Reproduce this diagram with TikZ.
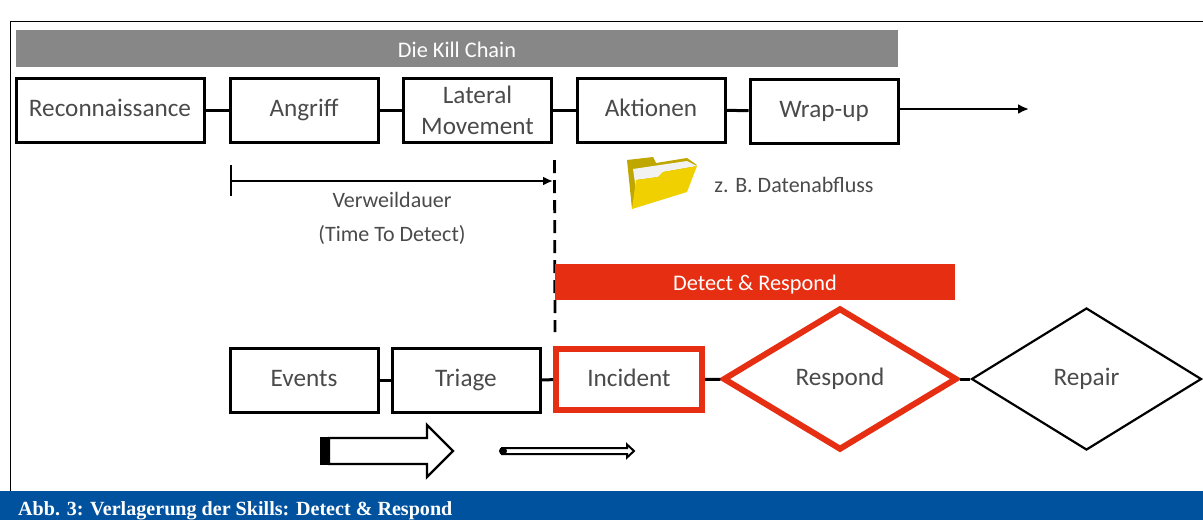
\documentclass[tikz,border=0pt]{standalone}
\usepackage{fontspec}
\setmainfont{Carlito}
\newfontfamily\captionfont{Liberation Serif}
\usetikzlibrary{arrows.meta,shapes.geometric}
\definecolor{killgray}{HTML}{878787}
\definecolor{textgray}{HTML}{4A4A4A}
\definecolor{alarmred}{HTML}{E62E12}
\definecolor{capblue}{HTML}{00519E}
\definecolor{folderyellow}{HTML}{F0D000}

\begin{document}
\begin{tikzpicture}[x=1pt,y=-1pt]
	\tikzstyle{comp} = [
		rectangle, draw=black, line width=3pt, text=textgray, font=\fontsize{25.2}{27}\selectfont,
		align=center, inner sep=0pt, minimum height=64pt, text height=17pt, text depth=5pt
	]
	\tikzstyle{component} = [
		comp, minimum width=148pt
	]
	\tikzstyle{bar} = [
		rectangle, inner sep=0pt, text=white, font=\fontsize{22.3}{24}\selectfont, text height=19pt, text depth=2pt
	]
	\tikzstyle{caption} = [
		text=textgray, font=\fontsize{22}{24}\selectfont
	]
	\tikzstyle{decision} = [
		diamond, draw=black, text=textgray, inner sep=0pt, font=\fontsize{25.2}{27}\selectfont, text height=18pt, text depth=5pt
	]
	\tikzstyle{conn} = [
		draw=black, line width=3pt
	]
	\tikzstyle{arr} = [
		line width=2.2pt, -{Latex[length=11pt,width=10pt]}
	]

	\useasboundingbox (0,0) rectangle (1203,520);

	% Frame
	\draw[black, line width=0.8pt] (1203,21) -- (10.5,21) -- (10.5,491);

	% Kill Chain
	\node (KillChain) [bar, fill=killgray, minimum width=882pt, minimum height=37pt] at (457,48.5) {Die Kill Chain};
	\node (Recon) [comp, minimum width=188pt] at (110,110) {Reconnaissance};
	\node (Angriff) [component] at (304,110) {Angriff};
	\node (Lateral) [component, text height=, text depth=] at (477.5,110) {Lateral\\[4pt]Movement};
	\node (Aktionen) [component] at (651,110) {Aktionen};
	\node (Wrapup) [component] at (824,111) {Wrap-up};
	\coordinate (chain_end) at (1029,109);

	\draw[conn] (Recon) -- (Angriff);
	\draw[conn] (Angriff) -- (Lateral);
	\draw[conn] (Lateral) -- (Aktionen);
	\draw[conn] (Aktionen) -- (Wrapup);
	\draw[arr] (Wrapup.east |- chain_end) -- (chain_end);

	% Folder
	\fill[folderyellow!80!black] (627,160) -- (653,157) -- (656,163) -- (687,158) -- (697,165) -- (632,209) -- cycle;
	\fill[white!90!gray] (633,169) -- (687,161) -- (697,166) -- (663,172) -- (658,177) -- (636,180) -- (637,197) -- cycle;
	\fill[folderyellow] (636,180) -- (658,177) -- (663,172) -- (697,166) -- (687,192) -- (632,209) -- cycle;
	\node (DataLabel) [caption] at (794,185) {z. B. Datenabfluss};

	% Verweildauer
	\coordinate (dwell_start) at (231,181);
	\coordinate (dwell_top) at (231,165);
	\coordinate (dwell_bottom) at (231,196);
	\coordinate (dwell_end) at (553,181);
	\coordinate (cut_top) at (554.5,160);
	\coordinate (cut_bottom) at (555,332);
	\draw[black, line width=2.2pt] (dwell_top) -- (dwell_bottom);
	\draw[black, line width=2pt, -{Latex[length=10pt,width=9pt]}] (dwell_start) -- (dwell_end);
	\draw[black, line width=2.8pt, dash pattern=on 13pt off 7pt] (cut_top) -- (cut_bottom);
	\node (Dwell) [caption] at (392,200) {Verweildauer};
	\node (Ttd) [caption] at (392,235) {(Time To Detect)};

	% Detect & Respond
	\node (DetectBar) [bar, fill=alarmred, minimum width=400pt, minimum height=36pt] at (755,282) {Detect \& Respond};
	\node (Events) [component] at (304,380) {Events};
	\node (Triage) [component] at (466,380) {Triage};
	\node (Incident) [comp, draw=alarmred, line width=6pt, minimum width=146pt, minimum height=61pt, text height=18pt] at (629,379.5) {Incident};
	\node (Respond) [decision, draw=alarmred, line width=6pt, minimum width=234pt, minimum height=142pt, aspect=1.65] at (840,379) {Respond};
	\node (Repair) [decision, line width=2.2pt, minimum width=230pt, minimum height=142pt, aspect=1.62] at (1086.5,379) {Repair};

	\draw[conn] (Events) -- (Triage);
	\draw[conn] (Triage) -- (Incident);
	\draw[conn] (Incident) -- (Respond);
	\draw[conn] (Respond) -- (Repair);

	% Arrows below
	\draw[black, line width=2.4pt, fill=white, line join=miter] (329,438) -- (427,438) -- (427,425) -- (453,451) -- (427,477) -- (427,464) -- (329,464) -- cycle;
	\node (BigTail) [rectangle, fill=black, inner sep=0pt, minimum width=10pt, minimum height=28pt] at (324.5,451) {};
	\draw[black, line width=2pt, fill=white, line join=miter] (502,448) -- (627,448) -- (627,444.5) -- (634,451) -- (627,457.5) -- (627,454) -- (502,454) -- cycle;
	\node (ThinTail) [circle, fill=black, inner sep=0pt, minimum size=8pt] at (503,451) {};

	% Caption
	\node (CapBar) [rectangle, fill=capblue, inner sep=0pt, minimum width=1203pt, minimum height=29pt] at (601.5,505.5) {};
	\node (CapText) [anchor=base west, inner sep=0pt, text=white, font=\captionfont\bfseries\fontsize{20.1}{22}\selectfont] at (18,515.5)
		{Abb. 3: Verlagerung der Skills: Detect \& Respond};
\end{tikzpicture}
\end{document}
